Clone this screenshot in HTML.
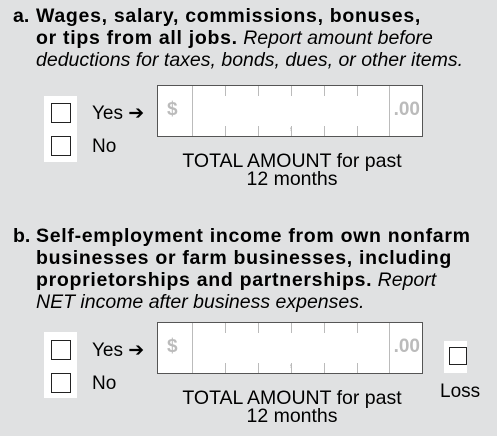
<!DOCTYPE html>
<html><head><meta charset="utf-8"><style>
body{margin:0;width:497px;height:436px;background:#e0e1e2;position:relative;overflow:hidden;font-family:"Liberation Sans",sans-serif;color:#000}
.t{position:absolute;white-space:nowrap;font-size:19.5px;line-height:22px}
.t b{letter-spacing:0.7px}
.b{font-weight:bold}
i{font-weight:normal}
.panel{position:absolute;background:#fff}
.cb{position:absolute;width:18px;height:18px;border:1.3px solid #222;background:#fff}
.box{position:absolute;width:264px;height:50px;border:1.5px solid #555;background:#fff}
.v{position:absolute;width:1px;background:#bbb}
.dol,.cents{position:absolute;top:13px;font-weight:bold;color:#bbb;font-size:19px}
.lbl{position:absolute;font-size:19.5px;line-height:18px;text-align:center;width:270px}
</style></head><body>
<div class="t b" style="left:13px;top:5px">a.</div>
<div class="t" style="left:36px;top:5px"><b>Wages, salary, commissions, bonuses,<br>or tips from all jobs.</b> <i>Report amount before</i><br><i>deductions for taxes, bonds, dues, or other items.</i></div>

<div class="panel" style="left:44px;top:96px;width:33px;height:66px"></div>
<div class="cb" style="left:51px;top:103px"></div>
<div class="cb" style="left:51px;top:136px"></div>
<div class="t" style="left:92px;top:103px;font-size:19px">Yes ➔</div>
<div class="t" style="left:92px;top:136px;font-size:19px">No</div>
<div class="box" style="left:157px;top:85px">
<span class="dol" style="left:9px">$</span><span class="cents" style="right:2px">.00</span>
<div class="v" style="left:34px;top:0;height:50px"></div>
<div class="v" style="left:67px;top:0;height:10px"></div><div class="v" style="left:67px;bottom:0;height:10px"></div>
<div class="v" style="left:100px;top:0;height:10px"></div><div class="v" style="left:100px;bottom:0;height:10px"></div>
<div class="v" style="left:133px;top:0;height:10px"></div><div class="v" style="left:133px;bottom:0;height:10px"></div>
<div class="v" style="left:166px;top:0;height:10px"></div><div class="v" style="left:166px;bottom:0;height:10px"></div>
<div class="v" style="left:199px;top:0;height:10px"></div><div class="v" style="left:199px;bottom:0;height:10px"></div>
<div class="v" style="left:231px;top:0;height:50px"></div>
<span style="position:absolute;left:131px;top:30px;color:#bbb;font-size:14px">,</span>
</div>
<div class="lbl" style="left:157px;top:152px">TOTAL AMOUNT for past<br>12 months</div>

<div class="t b" style="left:13px;top:225px">b.</div>
<div class="t" style="left:36px;top:225px"><b>Self-employment income from own nonfarm<br>businesses or farm businesses, including<br>proprietorships and partnerships.</b> <i>Report</i><br><i>NET income after business expenses.</i></div>

<div class="panel" style="left:44px;top:332px;width:33px;height:66px"></div>
<div class="cb" style="left:51px;top:340px"></div>
<div class="cb" style="left:51px;top:373px"></div>
<div class="t" style="left:92px;top:340px;font-size:19px">Yes ➔</div>
<div class="t" style="left:92px;top:373px;font-size:19px">No</div>
<div class="box" style="left:157px;top:322px">
<span class="dol" style="left:9px">$</span><span class="cents" style="right:2px">.00</span>
<div class="v" style="left:34px;top:0;height:50px"></div>
<div class="v" style="left:67px;top:0;height:10px"></div><div class="v" style="left:67px;bottom:0;height:10px"></div>
<div class="v" style="left:100px;top:0;height:10px"></div><div class="v" style="left:100px;bottom:0;height:10px"></div>
<div class="v" style="left:133px;top:0;height:10px"></div><div class="v" style="left:133px;bottom:0;height:10px"></div>
<div class="v" style="left:166px;top:0;height:10px"></div><div class="v" style="left:166px;bottom:0;height:10px"></div>
<div class="v" style="left:199px;top:0;height:10px"></div><div class="v" style="left:199px;bottom:0;height:10px"></div>
<div class="v" style="left:231px;top:0;height:50px"></div>
<span style="position:absolute;left:131px;top:30px;color:#bbb;font-size:14px">,</span>
</div>
<div class="lbl" style="left:157px;top:389px">TOTAL AMOUNT for past<br>12 months</div>
<div class="panel" style="left:444px;top:341px;width:23px;height:32px"></div>
<div class="cb" style="left:449px;top:347px;width:16px;height:16px"></div>
<div class="t" style="left:440px;top:381px;font-size:19px">Loss</div>
</body></html>
